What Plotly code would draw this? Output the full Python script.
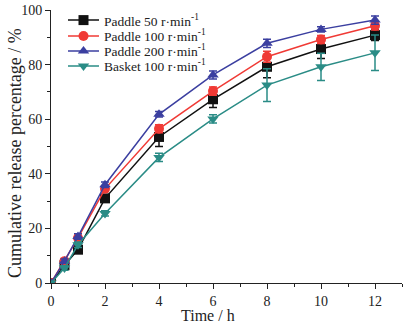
import plotly.graph_objects as go

time_h = [0, 0.5, 1, 2, 4, 6, 8, 10, 12]
paddle50 = [0, 6.5, 12.2, 31.0, 53.5, 67.3, 79.2, 85.7, 90.8]
paddle50_err = [0, 0.5, 1.0, 1.0, 3.5, 3.0, 4.0, 3.5, 2.0]
paddle100 = [0, 8.0, 16.5, 34.5, 56.5, 70.3, 82.9, 89.2, 94.2]
paddle100_err = [0, 0.8, 1.0, 1.0, 1.5, 1.5, 2.0, 1.5, 1.5]
paddle200 = [0, 8.0, 17.0, 36.0, 61.8, 76.2, 87.8, 92.9, 96.3]
paddle200_err = [0, 0.8, 1.0, 1.0, 1.0, 1.5, 1.5, 1.0, 1.5]
basket100 = [0, 5.5, 14.0, 25.5, 46.0, 60.1, 72.5, 79.2, 84.3]
basket100_err = [0, 0.8, 1.0, 1.0, 1.5, 1.5, 6.0, 5.0, 6.5]

series_names = ["Paddle 50 r·min<sup>-1</sup>", "Paddle 100 r·min<sup>-1</sup>",
                "Paddle 200 r·min<sup>-1</sup>", "Basket 100 r·min<sup>-1</sup>"]
series_values = [paddle50, paddle100, paddle200, basket100]
series_errors = [paddle50_err, paddle100_err, paddle200_err, basket100_err]
colors = ["#111111", "#F03A35", "#3B3FA0", "#2A8C86"]
symbols = ["square", "circle", "triangle-up", "triangle-down"]

FF = "Liberation Serif"
TXT = "#222"

fig = go.Figure()
for name, y, err, color, sym in zip(series_names, series_values, series_errors, colors, symbols):
    fig.add_trace(go.Scatter(
        x=time_h, y=y, name=name, mode="lines+markers", showlegend=False,
        line=dict(color=color, width=1.5),
        marker=dict(symbol=sym, size=10, color=color),
        error_y=dict(type="data", array=err, visible=True, color=color, thickness=1.5, width=4),
    ))

# manual legend (compact rows) on an invisible overlay axis in [0,1]
leg_rows = [0.963, 0.905, 0.850, 0.795]
for name, color, sym, ly in zip(series_names, colors, symbols, leg_rows):
    fig.add_trace(go.Scatter(
        x=[0.0484, 0.1368], y=[ly, ly], xaxis="x2", yaxis="y2", mode="lines",
        line=dict(color=color, width=1.5), showlegend=False, hoverinfo="skip"))
    fig.add_trace(go.Scatter(
        x=[0.0926], y=[ly], xaxis="x2", yaxis="y2", mode="markers",
        marker=dict(symbol=sym, size=10, color=color), showlegend=False, hoverinfo="skip"))
    fig.add_annotation(text=name, xref="paper", yref="paper", x=0.1453, y=ly,
                       xanchor="left", yanchor="middle", showarrow=False,
                       font=dict(size=13.5, family=FF, color=TXT))

fig.update_layout(
    width=412, height=324,
    margin=dict(l=51, r=10, t=10, b=41),
    paper_bgcolor="white", plot_bgcolor="white",
    font=dict(family=FF, size=14, color=TXT),
    showlegend=False,
    xaxis=dict(range=[0, 13], tickvals=[0, 2, 4, 6, 8, 10, 12], ticks="outside", ticklen=5,
               minor=dict(tickvals=[1, 3, 5, 7, 9, 11, 13], ticks="outside", ticklen=3, tickcolor=TXT),
               showline=True, linecolor=TXT, linewidth=1, showgrid=False, zeroline=False,
               tickfont=dict(size=14, family=FF, color=TXT), tickcolor=TXT, automargin=False),
    yaxis=dict(range=[0, 100], tickvals=[0, 20, 40, 60, 80, 100], ticks="outside", ticklen=5,
               minor=dict(tickvals=[10, 30, 50, 70, 90], ticks="outside", ticklen=3, tickcolor=TXT),
               showline=True, linecolor=TXT, linewidth=1, showgrid=False, zeroline=False,
               tickfont=dict(size=14, family=FF, color=TXT), tickcolor=TXT, automargin=False),
    xaxis2=dict(range=[0, 1], overlaying="x", visible=False, fixedrange=True),
    yaxis2=dict(range=[0, 1], overlaying="y", visible=False, fixedrange=True),
)
fig.add_annotation(text="Cumulative release percentage / %", xref="paper", yref="paper",
                   x=-0.1026, y=0.476, textangle=-90, xanchor="center", yanchor="middle",
                   showarrow=False, font=dict(size=18, family=FF, color=TXT))
fig.add_annotation(text="Time / h", xref="paper", yref="paper", x=0.448, y=-0.118,
                   xanchor="center", yanchor="middle", showarrow=False,
                   font=dict(size=16, family=FF, color=TXT))
fig.write_html("out.html", config={"displayModeBar": False},
               post_script="document.body.style.margin='0px';")
